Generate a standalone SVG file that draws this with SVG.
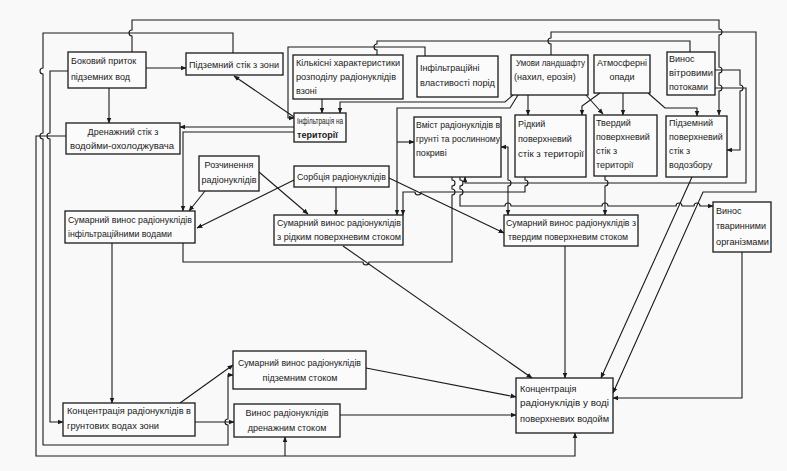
<svg xmlns="http://www.w3.org/2000/svg" width="787" height="471" viewBox="0 0 787 471">
<defs>
<marker id="ah" viewBox="0 0 10 10" refX="9" refY="5" markerWidth="6" markerHeight="6" orient="auto-start-reverse" markerUnits="userSpaceOnUse">
<path d="M0,1 L10,5 L0,9 z" fill="#1a1a1a"/>
</marker>
<style>
.box{fill:#fbfbfb;stroke:#1a1a1a;stroke-width:1.3}
.t{font-family:"Liberation Sans",Arial,sans-serif;font-size:9px;fill:#1a1a1a}
.c{text-anchor:middle}
.ln{fill:none;stroke:#1a1a1a;stroke-width:1.1}
.ar{marker-end:url(#ah)}
</style>
</defs>
<rect width="787" height="471" fill="#f9f9f9"/>

<g id="connectors">
<!-- left loops -->
<path class="ln ar" d="M233,53 V33 H43 V68 a3,3 0 0 0 0,6 V133 a3,3 0 0 0 0,6 V445 H228 V425 a3,3 0 0 1 0,-6 V375 H233"/>
<path class="ln ar" d="M69,71 H50 V133 a3,3 0 0 0 0,6 V422 H63"/>
<path class="ln ar" d="M66,136 H36 V456 H575 V433"/>
<path class="ln ar" d="M285,456 V437"/>
<path class="ln ar" d="M146,68 H186"/>
<path class="ln ar" d="M109,88 V123"/>
<path class="ln ar" d="M294,117 L234,76"/>
<path class="ln ar" d="M294,127 H180"/>
<path class="ln ar" d="M294,132 H183 V211"/>
<path class="ln ar" d="M322,99 V113"/>
<!-- top lines -->
<path class="ln ar" d="M132,52 V36 a3,3 0 0 1 0,-6 V20 H719 V29 a3,3 0 0 1 0,6 V67 a3,3 0 0 1 0,6 V85 a3,3 0 0 1 0,6 V115"/>
<path class="ln ar" d="M551,55 V44 a3,3 0 0 1 0,-6 V32 H756 V192 H703 L613,393"/>
<path class="ln" d="M377,55 V50 a3,3 0 0 1 0,-6 V41 H690 V52"/>
<path class="ln ar" d="M425,56 V47 H288 V118 H294"/>
<path class="ln ar" d="M513,95 L505,102 H340 V113"/>
<path class="ln ar" d="M518,95 L510,108 H397 V215"/>
<path class="ln ar" d="M397,142 H414"/>
<path class="ln ar" d="M528,95 V115"/>
<path class="ln ar" d="M586,95 L603,114"/>
<path class="ln ar" d="M600,93 L582,106 V115"/>
<path class="ln ar" d="M623,93 V115"/>
<path class="ln ar" d="M648,93 L665,108 H697 V116"/>
<path class="ln ar" d="M715,70 H740 V85 a3,3 0 0 1 0,6 V150 H727"/>
<path class="ln ar" d="M715,88 H746 V183 H465 V177"/>
<!-- middle -->
<path class="ln ar" d="M525,177 V180 a3,3 0 0 1 0,6 V192 H421 a3,3 0 0 1 -6,0 H403 V215"/>
<path class="ln ar" d="M508,192 V186 a3,3 0 0 0 0,-6 V147 H501"/>
<path class="ln ar" d="M508,192 V215"/>
<path class="ln ar" d="M605,176 V180 a3,3 0 0 1 0,6 V215"/>
<path class="ln" d="M452,177 V180 a3,3 0 0 1 0,6 V189 a3,3 0 0 1 0,6 V262 H369 a3,3 0 0 1 -6,0 H183 V243"/>
<path class="ln ar" d="M460,177 V180 a3,3 0 0 1 0,6 V189 a3,3 0 0 1 0,6 V206 H505 a3,3 0 0 1 6,0 H602 a3,3 0 0 1 6,0 H676 a3,3 0 0 1 6,0 H694 a3,3 0 0 1 6,0 H713"/>
<path class="ln ar" d="M205,191 L189,211"/>
<path class="ln ar" d="M259,172 L308,214"/>
<path class="ln ar" d="M294,180 L197,228"/>
<path class="ln ar" d="M336,187 V215"/>
<path class="ln ar" d="M389,178 L504,233"/>
<!-- lower -->
<path class="ln ar" d="M112,243 V403"/>
<path class="ln ar" d="M180,403 L233,365"/>
<path class="ln ar" d="M195,422 H234"/>
<path class="ln ar" d="M366,368 L516,397"/>
<path class="ln ar" d="M340,415 H516"/>
<path class="ln ar" d="M343,246 L532,378"/>
<path class="ln ar" d="M565,246 V378"/>
<path class="ln ar" d="M692,177 L601,378"/>
<path class="ln ar" d="M742,252 V398 H613"/>
</g>

<g id="n1"><rect class="box" x="68" y="52" width="78" height="36"/>
<text class="t" x="71" y="64">Боковий приток</text><text class="t" x="71" y="80">підземних вод</text></g>
<g id="n2"><rect class="box" x="186" y="53" width="97" height="22"/>
<text class="t" x="189" y="68" textLength="90" lengthAdjust="spacingAndGlyphs">Підземний стік з зони</text></g>
<g id="n3"><rect class="box" x="293" y="55" width="110" height="44"/>
<text class="t" x="296" y="66" textLength="104" lengthAdjust="spacingAndGlyphs">Кількісні характеристики</text>
<text class="t" x="296" y="80" textLength="100" lengthAdjust="spacingAndGlyphs">розподілу радіонуклідів</text>
<text class="t" x="296" y="94">взоні</text></g>
<g id="n4"><rect class="box" x="417" y="56" width="81" height="41"/>
<text class="t" x="420" y="71">Інфільтраційні</text>
<text class="t" x="420" y="86" textLength="75" lengthAdjust="spacingAndGlyphs">властивості порід</text></g>
<g id="n5"><rect class="box" x="511" y="55" width="77" height="40"/>
<text class="t" x="516" y="66" textLength="69" lengthAdjust="spacingAndGlyphs">Умови ландшафту</text>
<text class="t" x="514" y="80">(нахил, ерозія)</text></g>
<g id="n6"><rect class="box" x="594" y="55" width="56" height="38"/>
<text class="t c" x="622" y="66">Атмосферні</text><text class="t c" x="622" y="80">опади</text></g>
<g id="n7"><rect class="box" x="667" y="52" width="48" height="43"/>
<text class="t" x="669" y="62">Винос</text>
<text class="t" x="669" y="76" textLength="44" lengthAdjust="spacingAndGlyphs">вітровими</text>
<text class="t" x="669" y="90">потоками</text></g>
<g id="n8"><rect class="box" x="294" y="113" width="52" height="29"/>
<text class="t" x="297" y="124" textLength="46" lengthAdjust="spacingAndGlyphs">Інфільтрація на</text>
<text class="t" x="297" y="138" font-weight="bold">території</text></g>
<g id="n9"><rect class="box" x="66" y="123" width="114" height="31"/>
<text class="t c" x="123" y="135">Дренажний стік з</text>
<text class="t" x="70" y="149" textLength="104" lengthAdjust="spacingAndGlyphs">водойми-охолоджувача</text></g>
<g id="n10"><rect class="box" x="414" y="117" width="87" height="60"/>
<text class="t" x="416" y="128" textLength="84" lengthAdjust="spacingAndGlyphs">Вміст радіонуклідів в</text>
<text class="t" x="416" y="142" textLength="84" lengthAdjust="spacingAndGlyphs">грунті та рослинному</text>
<text class="t" x="416" y="156">покриві</text></g>
<g id="n11"><rect class="box" x="515" y="115" width="71" height="62"/>
<text class="t" x="518" y="127">Рідкий</text>
<text class="t" x="518" y="142">поверхневий</text>
<text class="t" x="518" y="157" textLength="66" lengthAdjust="spacingAndGlyphs">стік з території</text></g>
<g id="n12"><rect class="box" x="594" y="115" width="63" height="61"/>
<text class="t" x="596" y="126">Твердий</text>
<text class="t" x="596" y="140">поверхневий</text>
<text class="t" x="596" y="154">стік з</text>
<text class="t" x="596" y="168">території</text></g>
<g id="n13"><rect class="box" x="666" y="116" width="61" height="61"/>
<text class="t" x="669" y="126">Підземний</text>
<text class="t" x="669" y="140">поверхневий</text>
<text class="t" x="669" y="154">стік з</text>
<text class="t" x="669" y="168">водозбору</text></g>
<g id="n14"><rect class="box" x="199" y="156" width="60" height="35"/>
<text class="t c" x="229" y="168">Розчинення</text>
<text class="t c" x="229" y="183">радіонуклідів</text></g>
<g id="n15"><rect class="box" x="294" y="166" width="95" height="21"/>
<text class="t" x="297" y="180" textLength="89" lengthAdjust="spacingAndGlyphs">Сорбція радіонуклідів</text></g>
<g id="n16"><rect class="box" x="65" y="211" width="130" height="32"/>
<text class="t" x="68" y="223" textLength="124" lengthAdjust="spacingAndGlyphs">Сумарний винос радіонуклідів</text>
<text class="t" x="68" y="237" textLength="104" lengthAdjust="spacingAndGlyphs">інфільтраційними водами</text></g>
<g id="n17"><rect class="box" x="274" y="215" width="129" height="30"/>
<text class="t" x="277" y="226" textLength="124" lengthAdjust="spacingAndGlyphs">Сумарний винос радіонуклідів</text>
<text class="t" x="277" y="240" textLength="124" lengthAdjust="spacingAndGlyphs">з рідким поверхневим стоком</text></g>
<g id="n18"><rect class="box" x="504" y="215" width="134" height="31"/>
<text class="t" x="506" y="226" textLength="130" lengthAdjust="spacingAndGlyphs">Сумарний винос радіонуклідів з</text>
<text class="t" x="508" y="240" textLength="120" lengthAdjust="spacingAndGlyphs">твердим поверхневим стоком</text></g>
<g id="n19"><rect class="box" x="713" y="202" width="58" height="50"/>
<text class="t" x="716" y="214">Винос</text>
<text class="t" x="716" y="229">тваринними</text>
<text class="t" x="716" y="245" textLength="53" lengthAdjust="spacingAndGlyphs">організмами</text></g>
<g id="n20"><rect class="box" x="233" y="351" width="133" height="38"/>
<text class="t" x="238" y="366" textLength="123" lengthAdjust="spacingAndGlyphs">Сумарний винос радіонуклідів</text>
<text class="t c" x="300" y="381">підземним стоком</text></g>
<g id="n21"><rect class="box" x="63" y="403" width="132" height="33"/>
<text class="t" x="67" y="414" textLength="124" lengthAdjust="spacingAndGlyphs">Концентрація радіонуклідів в</text>
<text class="t" x="67" y="429" textLength="92" lengthAdjust="spacingAndGlyphs">грунтових водах зони</text></g>
<g id="n22"><rect class="box" x="234" y="404" width="106" height="33"/>
<text class="t c" x="287" y="416">Винос радіонуклідів</text>
<text class="t c" x="287" y="431">дренажним стоком</text></g>
<g id="n23"><rect class="box" x="516" y="378" width="97" height="55"/>
<text class="t" x="520" y="392">Концентрація</text>
<text class="t" x="520" y="406" textLength="89" lengthAdjust="spacingAndGlyphs">радіонуклідів у воді</text>
<text class="t" x="520" y="422" textLength="89" lengthAdjust="spacingAndGlyphs">поверхневих водойм</text></g>
</svg>
